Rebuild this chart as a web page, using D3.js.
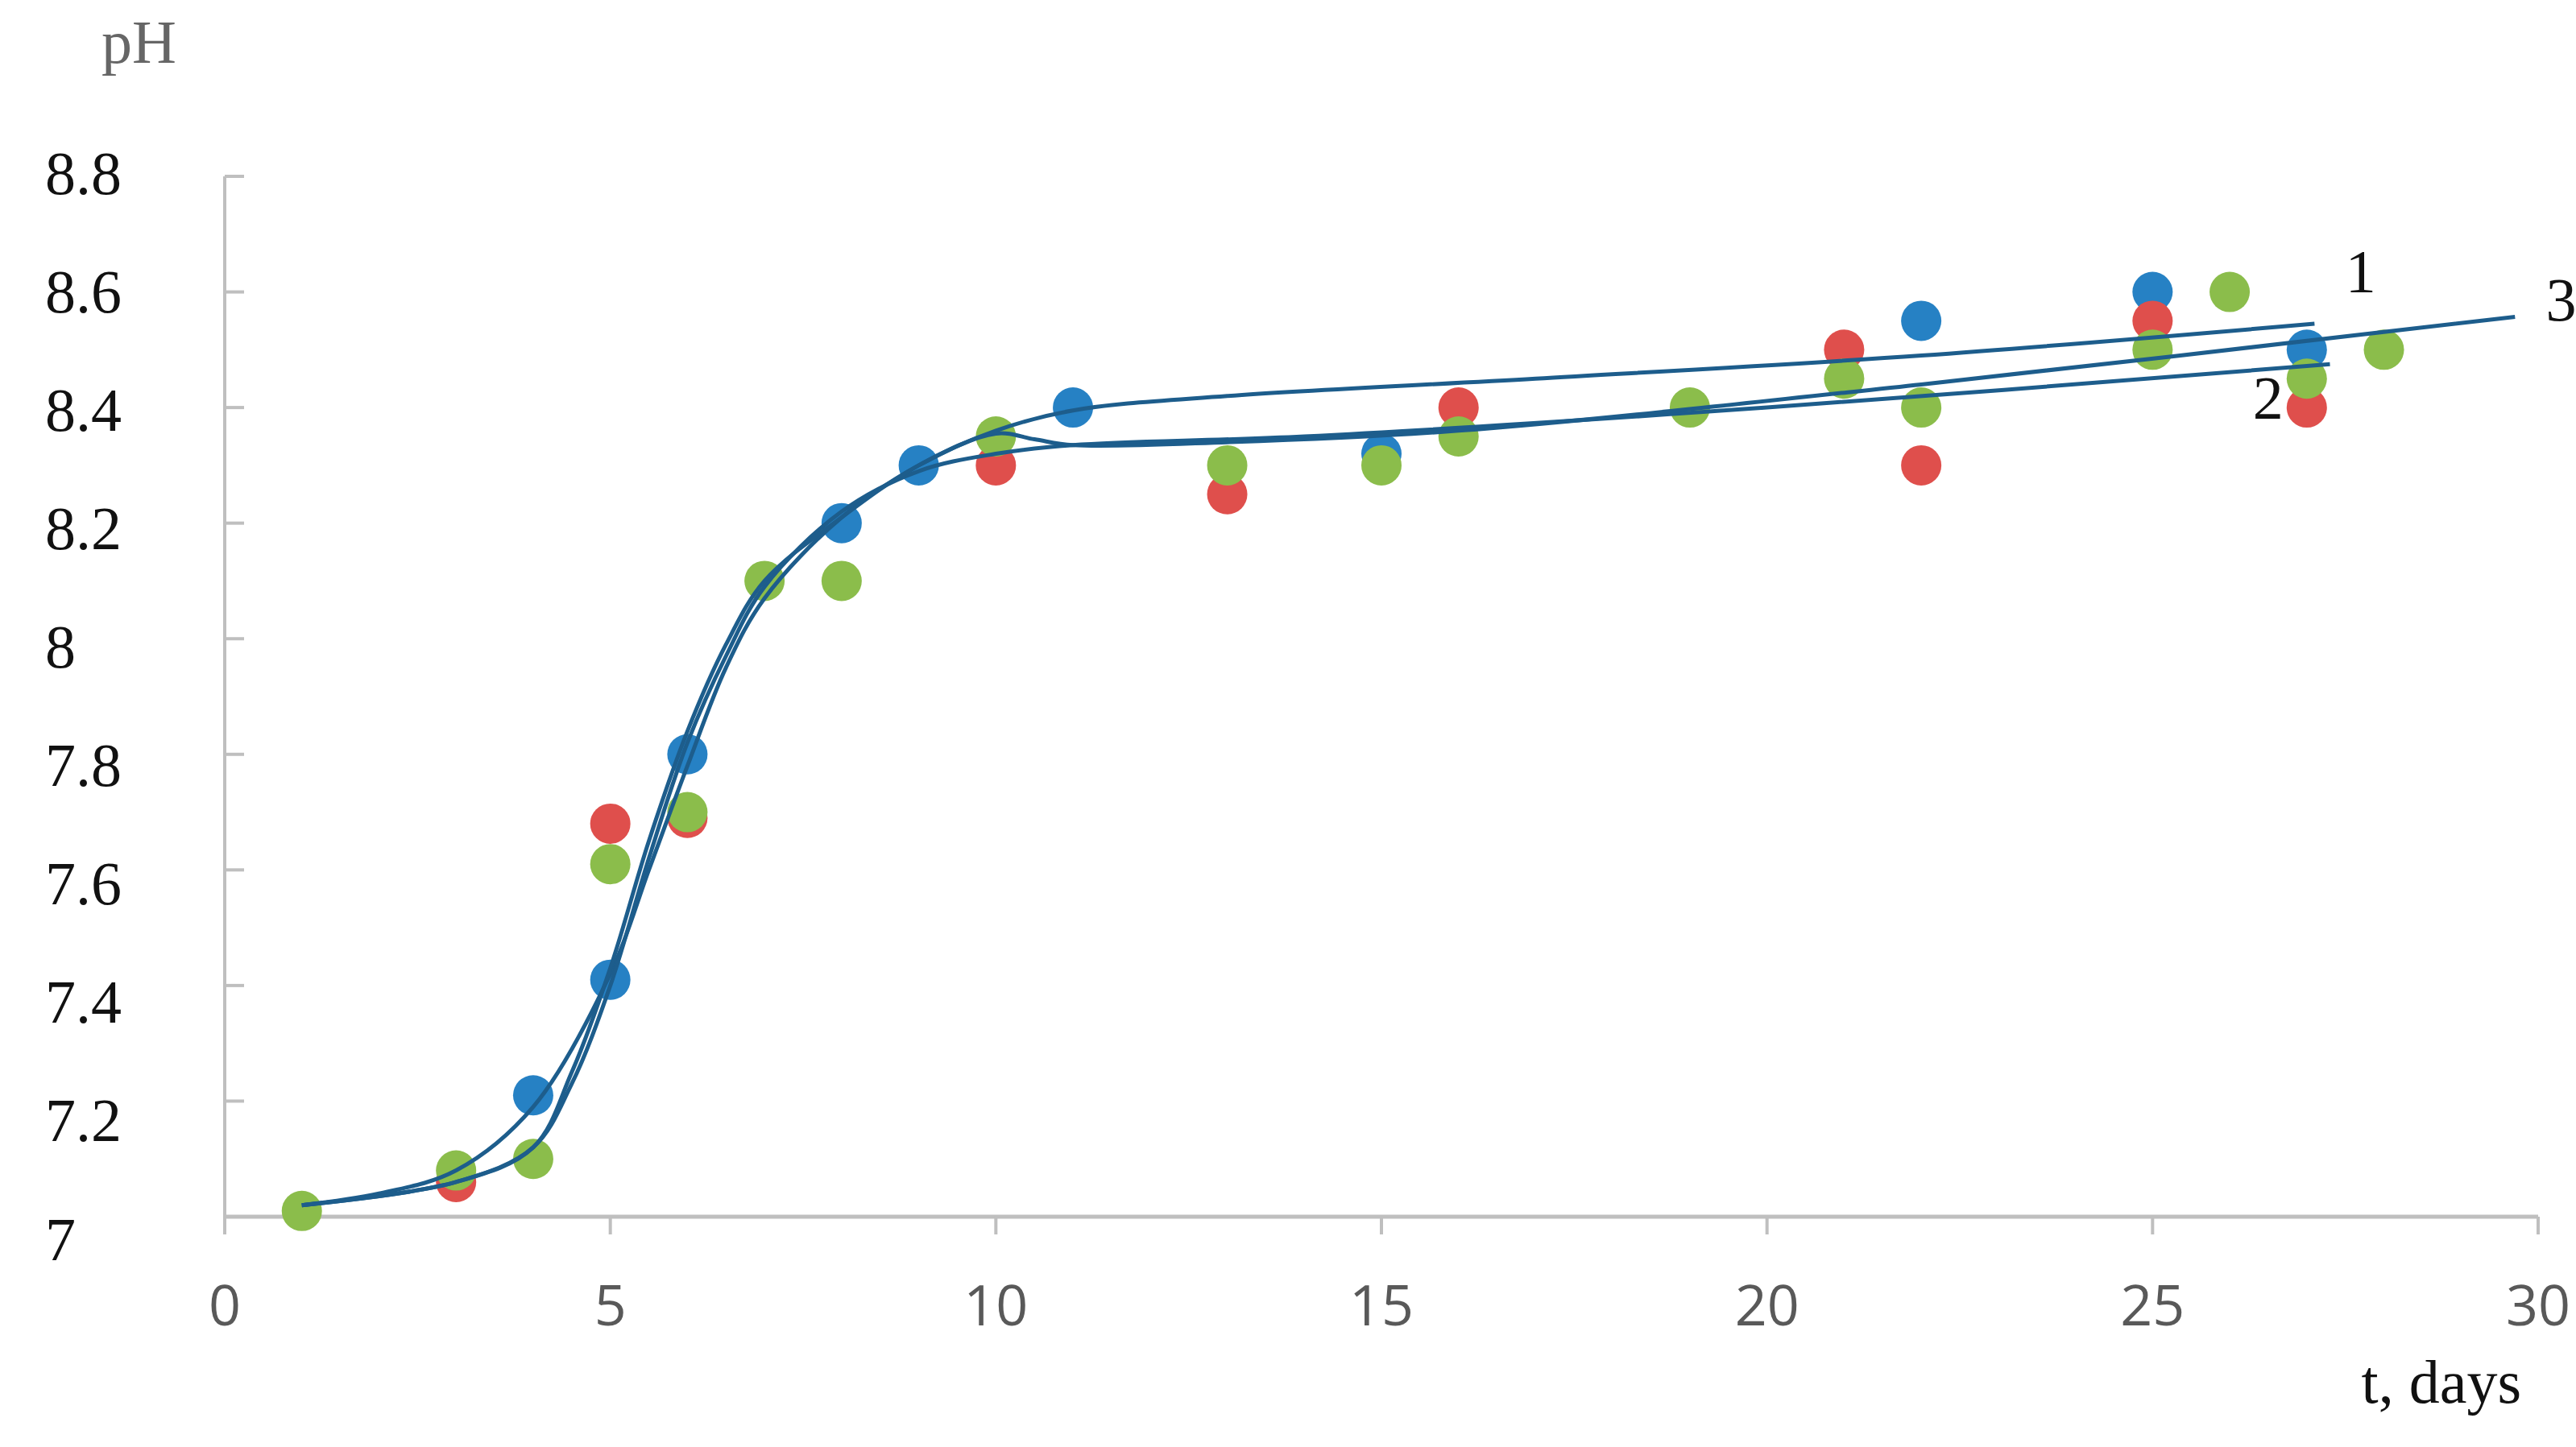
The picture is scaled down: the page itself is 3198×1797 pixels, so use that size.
<!DOCTYPE html>
<html>
<head>
<meta charset="utf-8">
<script src="https://cdn.jsdelivr.net/npm/d3@7"></script>
<style>
body { margin: 0; background: #fff; }
</style>
</head>
<body>
<svg id="chart" width="3198" height="1797"></svg>
<script>
// measured points, pH against day
var blue = [[4,7.21],[5,7.41],[6,7.80],[8,8.20],[9,8.30],[11,8.40],[15,8.32],[22,8.55],[25,8.60],[27,8.50]];
var red = [[3,7.06],[5,7.68],[6,7.69],[10,8.30],[13,8.25],[16,8.40],[21,8.50],[22,8.30],[25,8.55],[27,8.40]];
var green = [[1,7.01],[3,7.08],[4,7.10],[5,7.61],[6,7.70],[7,8.10],[8,8.10],[10,8.35],[13,8.30],[15,8.30],[16,8.35],[19,8.40],[21,8.45],[22,8.40],[25,8.50],[26,8.60],[27,8.45],[28,8.50]];

// fitted curves
var curve1 = [[1,7.02],[2,7.04],[3,7.08],[4,7.19],[5,7.42],[5.5,7.6],[6,7.78],[6.5,7.95],[7,8.07],[8,8.21],[9,8.3],[10,8.36],[11,8.395],[13,8.42],[17,8.45],[22,8.49],[27.1,8.545]];
var curve2 = [[1,7.02],[3,7.06],[4,7.12],[4.5,7.23],[5,7.40],[5.5,7.62],[6,7.82],[6.5,7.97],[7,8.09],[8,8.22],[9,8.29],[10,8.32],[11,8.335],[14,8.35],[20,8.40],[27.3,8.475]];
var curve3 = [[1,7.02],[3,7.06],[4,7.12],[4.5,7.25],[5,7.43],[5.5,7.65],[6,7.84],[6.5,7.99],[7,8.1],[8,8.21],[9,8.3],[10,8.355],[10.5,8.345],[11,8.335],[13,8.34],[16,8.36],[22,8.44],[29.7,8.557]];

var xTicks = [0,5,10,15,20,25,30];
var yTicks = [7,7.2,7.4,7.6,7.8,8,8.2,8.4,8.6,8.8];
var curveLabels = [["1",27.5,8.6],["2",26.3,8.38],["3",30.1,8.55]];

var svg = d3.select("#chart");
var x = d3.scaleLinear().domain([0,30]).range([279,3151]);
var y = d3.scaleLinear().domain([7,8.8]).range([1511,219]);
var axisColor = "#bfbfbf";

// axes
svg.append("line").attr("x1",x(0)).attr("x2",x(30)).attr("y1",y(7)).attr("y2",y(7))
    .attr("stroke",axisColor).attr("stroke-width",5);
svg.append("line").attr("x1",x(0)).attr("x2",x(0)).attr("y1",y(7)+22).attr("y2",y(8.8))
    .attr("stroke",axisColor).attr("stroke-width",4);

svg.selectAll(".xt").data(xTicks).enter().append("line")
    .attr("x1",d => x(d)).attr("x2",d => x(d)).attr("y1",y(7)).attr("y2",y(7)+22)
    .attr("stroke",axisColor).attr("stroke-width",4);
svg.selectAll(".yt").data(yTicks).enter().append("line")
    .attr("x1",x(0)).attr("x2",x(0)+24).attr("y1",d => y(d)).attr("y2",d => y(d))
    .attr("stroke",axisColor).attr("stroke-width",4);

svg.selectAll(".xl").data(xTicks).enter().append("text")
    .attr("x",d => x(d)).attr("y",y(7)+135)
    .attr("text-anchor","middle")
    .style("font-family","'Open Sans', sans-serif").style("font-size","70px").style("fill","#595959")
    .text(d => d);
svg.selectAll(".yl").data(yTicks).enter().append("text")
    .attr("x",56).attr("y",(d,i) => y(d) + 22 + (9 - i) * 3.5)
    .style("font-family","'Liberation Serif', serif").style("font-size","76px").style("fill","#111")
    .text(d => d);

svg.append("text").attr("x",126).attr("y",78)
    .style("font-family","'Liberation Serif', serif").style("font-size","76px").style("fill","#666")
    .text("pH");
svg.append("text").attr("x",3130).attr("y",1742).attr("text-anchor","end")
    .style("font-family","'Liberation Serif', serif").style("font-size","76px").style("fill","#111")
    .text("t, days");

// points
function dots(data, color) {
    svg.append("g").selectAll("circle").data(data).enter().append("circle")
	.attr("cx",d => x(d[0])).attr("cy",d => y(d[1])).attr("r",25)
	.attr("fill",color);
}
dots(blue,"#2681c4");
dots(red,"#df4f4c");
dots(green,"#8bbd4b");

// fitted curves
var line = d3.line().x(d => x(d[0])).y(d => y(d[1])).curve(d3.curveCatmullRom.alpha(0.5));
[curve1,curve2,curve3].forEach(function(c) {
    svg.append("path").attr("d",line(c)).attr("fill","none")
	.attr("stroke","#1d5d8c").attr("stroke-width",5);
});

svg.selectAll(".cl").data(curveLabels).enter().append("text")
    .attr("x",d => x(d[1])).attr("y",d => y(d[2]))
    .style("font-family","'Liberation Serif', serif").style("font-size","76px").style("fill","#111")
    .text(d => d[0]);
</script>
</body>
</html>
